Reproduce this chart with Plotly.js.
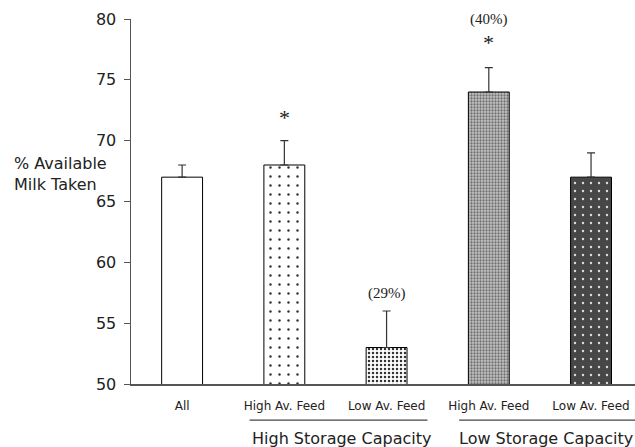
<!DOCTYPE html>
<html><head><meta charset="utf-8">
<script src="https://cdn.plot.ly/plotly-3.0.1.min.js"></script>
<style>html,body{margin:0;padding:0;background:#fff}#c{width:635px;height:447px}</style>
</head><body><div id="c"></div>
<script>
const categories = ["All", "High Av. Feed", "Low Av. Feed", "High Av. Feed", "Low Av. Feed"];
const positions = [0, 1, 2, 3, 4];
const values = [67, 68, 53, 74, 67];
const errorsUp = [1, 2, 3, 2, 2];
const groups = ["High Storage Capacity", "Low Storage Capacity"];
const notes = [{i: 1, text: "*", y: 71.9}, {i: 2, text: "(29%)", y: 57.4}, {i: 3, text: "*", y: 78.1}];
const topNote = {i: 3, text: "(40%)"};

const patterns = [
  {shape: '', bg: 'white', fg: 'black', size: 8, solidity: 0.1},
  {shape: '.', bg: 'white', fg: '#333', size: 9, solidity: 0.06},
  {shape: '.', bg: 'white', fg: '#333', size: 4, solidity: 0.3},
  {shape: '.', bg: '#c4c4c4', fg: '#707070', size: 3, solidity: 0.45},
  {shape: '.', bg: '#474747', fg: '#dddddd', size: 8, solidity: 0.07}
];

const traces = positions.map((p, i) => ({
  type: 'bar', x: [p], y: [values[i]], width: 0.4,
  marker: {
    color: patterns[i].bg,
    line: {color: 'black', width: 1},
    pattern: patterns[i].shape ? {shape: patterns[i].shape, size: patterns[i].size, solidity: patterns[i].solidity,
      fgcolor: patterns[i].fg, bgcolor: patterns[i].bg, fillmode: 'replace'} : undefined
  },
  error_y: {type: 'data', symmetric: false, array: [errorsUp[i]], arrayminus: [0], color: '#333', thickness: 1.2, width: 4},
  hoverinfo: 'none'
}));

const annotations = notes.map(n => ({
  x: positions[n.i], y: n.y, xref: 'x', yref: 'y', text: n.text, showarrow: false,
  font: {family: 'Liberation Serif', size: n.text === '*' ? 22 : 15, color: '#222'}
}));
annotations.push({x: positions[topNote.i], y: 1.027, xref: 'x', yref: 'paper', text: topNote.text, showarrow: false,
  font: {family: 'Liberation Serif', size: 15, color: '#222'}});
annotations.push({x: -0.236, y: 0.575, xref: 'paper', yref: 'paper', xanchor: 'left', yanchor: 'middle', align: 'left',
  text: '% Available<br>Milk Taken', showarrow: false, font: {family: 'DejaVu Sans', size: 16, color: '#222'}});
annotations.push({x: 1.56, y: -0.148, xref: 'x', yref: 'paper', text: groups[0], showarrow: false, yanchor: 'middle', font: {family: 'DejaVu Sans', size: 16, color: '#222'}});
annotations.push({x: 3.56, y: -0.148, xref: 'x', yref: 'paper', text: groups[1], showarrow: false, yanchor: 'middle', font: {family: 'DejaVu Sans', size: 16, color: '#222'}});

const layout = {
  width: 635, height: 447,
  margin: {l: 131, r: 0, t: 19, b: 63},
  paper_bgcolor: 'white', plot_bgcolor: 'white',
  showlegend: false, barmode: 'overlay',
  xaxis: {range: [-0.5, 4.43], tickvals: positions, ticktext: categories, showline: true, linecolor: '#555', linewidth: 1.5,
    ticks: '', showgrid: false, zeroline: false, tickfont: {family: 'DejaVu Sans', size: 12, color: '#222'}, ticklabelstandoff: 10},
  yaxis: {range: [50, 80], dtick: 5, showline: true, linecolor: '#555', linewidth: 1.5,
    ticks: 'outside', ticklen: 6, tickcolor: '#555', showgrid: false, zeroline: false,
    tickfont: {family: 'DejaVu Sans', size: 16, color: '#222'}, ticklabelstandoff: 4},
  annotations: annotations,
  shapes: [
    {type: 'line', xref: 'x', yref: 'paper', x0: 0.66, x1: 2.40, y0: -0.099, y1: -0.099, line: {color: '#444', width: 1.2}},
    {type: 'line', xref: 'x', yref: 'paper', x0: 2.71, x1: 4.43, y0: -0.099, y1: -0.099, line: {color: '#444', width: 1.2}}
  ]
};
Plotly.newPlot('c', traces, layout, {staticPlot: true});
</script></body></html>
